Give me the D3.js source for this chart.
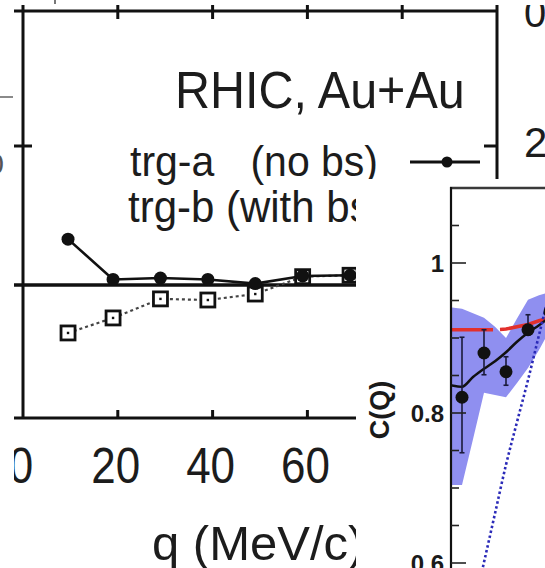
<!DOCTYPE html>
<html><head><meta charset="utf-8">
<script src="https://cdn.jsdelivr.net/npm/d3@7"></script>
<style>
html,body{margin:0;padding:0;background:#fff;overflow:hidden}
svg{display:block}
text{font-family:"Liberation Sans",Arial,sans-serif}
</style></head><body>
<svg id="chart" width="545" height="568"></svg>
<script>
// ---- main panel: ratio vs q (MeV/c) ----
const qValues = [9.5, 19, 29, 39, 49, 59, 69];
const trgA = [1.33, 1.04, 1.05, 1.04, 1.01, 1.065, 1.07];
const trgB = [0.655, 0.763, 0.90, 0.892, 0.935, 1.06, 1.07];
const qTicksBottom = [0, 20, 40, 60, 80];
const qTicksTop = [20, 40, 60, 80];
const ratioTicks = [2];
const panelTitle = "RHIC, Au+Au";
const legendA = ["trg-a", "(no bs)"];
const legendB = "trg-b (with bs)";
const xTitle = "q (MeV/c)";

// ---- inset: C(Q) vs Q ----
const insetQ = [0.005, 0.015, 0.025, 0.035, 0.045];
const insetC = [0.821, 0.880, 0.855, 0.911, 0.935];
const insetErrLo = [0.747, 0.851, 0.837, 0.904, 0.913];
const insetErrHi = [0.901, 0.911, 0.875, 0.931, 0.957];
const bandQ = [0, 0.005, 0.010, 0.015, 0.020, 0.025, 0.030, 0.035, 0.040, 0.045];
const bandHi = [0.941, 0.939, 0.933, 0.927, 0.915, 0.900, 0.926, 0.951, 0.957, 0.961];
const bandLo = [0.704, 0.704, 0.765, 0.827, 0.824, 0.821, 0.840, 0.860, 0.884, 0.911];
const fitC = [0.837, 0.835, 0.848, 0.859, 0.869, 0.881, 0.895, 0.907, 0.917, 0.928];
const flatQ = [0, 0.020, 0.025, 0.030, 0.035, 0.040, 0.045];
const flatC = [0.911, 0.911, 0.912, 0.915, 0.918, 0.923, 0.927];
const steepQ = [0.014, 0.020, 0.025, 0.030, 0.035, 0.040, 0.045];
const steepC = [0.588, 0.666, 0.731, 0.788, 0.844, 0.904, 0.964];
const insetMajor = [0.6, 0.8, 1.0];
const insetMinor = [0.65, 0.7, 0.75, 0.85, 0.9, 0.95, 1.05];
const insetLabels = ["0.6", "0.8", "1"];
const insetYTitle = "C(Q)";

const svg = d3.select("#chart");
const defs = svg.append("defs");

// main frame box
const L = 23, R = 497, T = 11, B = 418;
const x = d3.scaleLinear().domain([0, 100]).range([L, R]);
const y = d3.scaleLinear().domain([1, 2]).range([285, 146]);

defs.append("clipPath").attr("id", "mainClip")
  .append("rect").attr("x", 14).attr("y", 5).attr("width", 540).attr("height", 570);
defs.append("clipPath").attr("id", "sideClip")
  .append("rect").attr("x", 500).attr("y", 5).attr("width", 60).attr("height", 570);

const main = svg.append("g").attr("clip-path", "url(#mainClip)");
const ink = "#111";
const textInk = "#1c1c1c";

// frame
main.append("line").attr("x1", 14).attr("x2", R).attr("y1", T).attr("y2", T)
  .attr("stroke", ink).attr("stroke-width", 3);
main.append("line").attr("x1", 14).attr("x2", R).attr("y1", B).attr("y2", B)
  .attr("stroke", ink).attr("stroke-width", 3);
main.append("line").attr("x1", L).attr("x2", L).attr("y1", 5).attr("y2", B)
  .attr("stroke", ink).attr("stroke-width", 3);
main.append("line").attr("x1", R).attr("x2", R).attr("y1", 5).attr("y2", B)
  .attr("stroke", ink).attr("stroke-width", 3);

// top ticks (crossing the frame)
main.selectAll(".tt").data(qTicksTop).join("line")
  .attr("x1", d => x(d)).attr("x2", d => x(d)).attr("y1", 5).attr("y2", 19)
  .attr("stroke", ink).attr("stroke-width", 3);
// bottom ticks (inside)
main.selectAll(".bt").data(qTicksBottom.filter(d => d > 0)).join("line")
  .attr("x1", d => x(d)).attr("x2", d => x(d)).attr("y1", B - 8).attr("y2", B)
  .attr("stroke", ink).attr("stroke-width", 3);
// left / right ticks
main.selectAll(".lt").data(ratioTicks).join("line")
  .attr("x1", 14).attr("x2", 32).attr("y1", d => y(d)).attr("y2", d => y(d))
  .attr("stroke", ink).attr("stroke-width", 3);
main.selectAll(".rt").data(ratioTicks).join("line")
  .attr("x1", R - 13).attr("x2", R).attr("y1", d => y(d)).attr("y2", d => y(d))
  .attr("stroke", ink).attr("stroke-width", 3);

// unity reference line
main.append("line").attr("x1", 14).attr("x2", R).attr("y1", y(1)).attr("y2", y(1))
  .attr("stroke", ink).attr("stroke-width", 3.5);

// bottom tick labels (slightly tall glyphs)
main.selectAll(".bl").data(qTicksBottom).join("text")
  .attr("transform", d => `translate(${x(d) - 2},483) scale(1,1.12)`)
  .attr("text-anchor", "middle")
  .attr("font-size", 44).attr("fill", textInk).text(d => d);

// trg-b: dotted line with open squares
const lineMain = d3.line().x(d => x(d[0])).y(d => y(d[1]));
const ptsB = qValues.map((q, i) => [q, trgB[i]]);
const ptsA = qValues.map((q, i) => [q, trgA[i]]);
main.append("path").attr("d", lineMain(ptsB)).attr("fill", "none")
  .attr("stroke", "#444").attr("stroke-width", 2.2).attr("stroke-dasharray", "3 3");
main.selectAll(".sq").data(ptsB).join("rect")
  .attr("x", d => x(d[0]) - 7).attr("y", d => y(d[1]) - 7)
  .attr("width", 14).attr("height", 14)
  .attr("fill", "#fff").attr("stroke", ink).attr("stroke-width", 2.8);
main.selectAll(".sqd").data(ptsB).join("rect")
  .attr("x", d => x(d[0]) - 1.2).attr("y", d => y(d[1]) - 1.2)
  .attr("width", 2.4).attr("height", 2.4).attr("fill", ink);

// trg-a: solid line with filled circles
main.append("path").attr("d", lineMain(ptsA)).attr("fill", "none")
  .attr("stroke", ink).attr("stroke-width", 2.6);
main.selectAll(".ci").data(ptsA).join("circle")
  .attr("cx", d => x(d[0])).attr("cy", d => y(d[1])).attr("r", 6.5).attr("fill", ink);

// title and legend
main.append("text").attr("transform", "translate(175,108) scale(1,1.05)")
  .attr("font-size", 48.5).attr("fill", textInk).text(panelTitle);
main.append("text").attr("transform", "translate(130,176) scale(1,1.05)")
  .attr("font-size", 41).attr("fill", textInk).text(legendA[0]);
main.append("text").attr("transform", "translate(378,176) scale(1,1.05)")
  .attr("text-anchor", "end")
  .attr("font-size", 41).attr("fill", textInk).text(legendA[1]);
main.append("line").attr("x1", 410).attr("x2", 480).attr("y1", 162).attr("y2", 162)
  .attr("stroke", ink).attr("stroke-width", 3);
main.append("circle").attr("cx", 447).attr("cy", 162).attr("r", 5.5).attr("fill", ink);
main.append("text").attr("transform", "translate(128,222) scale(1,1.05)")
  .attr("font-size", 42).attr("fill", textInk).text(legendB);

// x-axis title
main.append("text").attr("x", 152).attr("y", 560).attr("font-size", 49)
  .attr("fill", textInk).text(xTitle);

// neighbouring panel edges
svg.append("line").attr("x1", 0).attr("x2", 13).attr("y1", 97).attr("y2", 97)
  .attr("stroke", "#8a8a8a").attr("stroke-width", 2);
svg.append("text").attr("x", 4).attr("y", 174).attr("text-anchor", "end")
  .attr("font-size", 30).attr("fill", "#555").text("0");
svg.append("line").attr("x1", 55).attr("x2", 55).attr("y1", 0).attr("y2", 4)
  .attr("stroke", "#777").attr("stroke-width", 2);
const side = svg.append("g").attr("clip-path", "url(#sideClip)");
side.append("text").attr("x", 524).attr("y", 27).attr("font-size", 40)
  .attr("fill", textInk).text("0");
side.append("text").attr("x", 524).attr("y", 157).attr("font-size", 42)
  .attr("fill", textInk).text("2");

// ---- inset panel ----
svg.append("rect").attr("x", 356).attr("y", 179).attr("width", 189).attr("height", 389)
  .attr("fill", "#fff");

const xi = d3.scaleLinear().domain([0, 0.045]).range([451, 550]);
const yi = d3.scaleLinear().domain([0.6, 1.0]).range([563, 263]);

defs.append("clipPath").attr("id", "insetClip")
  .append("rect").attr("x", 452).attr("y", 189).attr("width", 100).attr("height", 380);
const inset = svg.append("g").attr("clip-path", "url(#insetClip)");

const band = bandQ.map((q, i) => ({ q, lo: bandLo[i], hi: bandHi[i] }));
inset.append("path")
  .attr("d", d3.area().x(d => xi(d.q)).y0(d => yi(d.lo)).y1(d => yi(d.hi))(band))
  .attr("fill", "#8f8ff0");

inset.append("path")
  .attr("d", d3.line().x(d => xi(d[0])).y(d => yi(d[1]))(flatQ.map((q, i) => [q, flatC[i]])))
  .attr("fill", "none").attr("stroke", "#e2302c").attr("stroke-width", 3.5)
  .attr("stroke-dasharray", "42 7 300");

inset.append("path")
  .attr("d", d3.line().x(d => xi(d[0])).y(d => yi(d[1])).curve(d3.curveMonotoneX)(bandQ.map((q, i) => [q, fitC[i]])))
  .attr("fill", "none").attr("stroke", ink).attr("stroke-width", 2.5);

inset.append("path")
  .attr("d", d3.line().x(d => xi(d[0])).y(d => yi(d[1])).curve(d3.curveMonotoneX)(steepQ.map((q, i) => [q, steepC[i]])))
  .attr("fill", "none").attr("stroke", "#2a2ab8").attr("stroke-width", 2.6)
  .attr("stroke-dasharray", "2.5 2.5");

const pts = insetQ.map((q, i) => ({ q, c: insetC[i], lo: insetErrLo[i], hi: insetErrHi[i] }));
inset.selectAll(".eb").data(pts).join("line")
  .attr("x1", d => xi(d.q)).attr("x2", d => xi(d.q))
  .attr("y1", d => yi(d.lo)).attr("y2", d => yi(d.hi))
  .attr("stroke", "#1a1a3a").attr("stroke-width", 1.6);
["lo", "hi"].forEach(k => {
  inset.selectAll(".cap" + k).data(pts).join("line")
    .attr("x1", d => xi(d.q) - 2.5).attr("x2", d => xi(d.q) + 2.5)
    .attr("y1", d => yi(d[k])).attr("y2", d => yi(d[k]))
    .attr("stroke", "#1a1a3a").attr("stroke-width", 1.6);
});
inset.selectAll(".pt").data(pts).join("circle")
  .attr("cx", d => xi(d.q)).attr("cy", d => yi(d.c)).attr("r", 6.5).attr("fill", ink);

// inset frame and ticks
svg.append("line").attr("x1", 450).attr("x2", 545).attr("y1", 188).attr("y2", 188)
  .attr("stroke", "#3a3a3a").attr("stroke-width", 2.5);
svg.append("line").attr("x1", 451).attr("x2", 451).attr("y1", 187).attr("y2", 568)
  .attr("stroke", ink).attr("stroke-width", 2.2);
svg.selectAll(".imaj").data(insetMajor).join("line")
  .attr("x1", 451).attr("x2", 466).attr("y1", d => yi(d)).attr("y2", d => yi(d))
  .attr("stroke", "#222").attr("stroke-width", 1.6);
svg.selectAll(".imin").data(insetMinor).join("line")
  .attr("x1", 451).attr("x2", 459).attr("y1", d => yi(d)).attr("y2", d => yi(d))
  .attr("stroke", "#222").attr("stroke-width", 1.6);
svg.selectAll(".ilab").data(insetMajor).join("text")
  .attr("x", 444).attr("y", d => yi(d)).attr("dy", "0.36em")
  .attr("text-anchor", "end").attr("font-size", 24).attr("font-weight", "bold")
  .attr("fill", "#1a1a1a").text((d, i) => insetLabels[i]);
svg.append("text").attr("transform", "translate(379,410) rotate(-90)")
  .attr("text-anchor", "middle").attr("dy", "0.36em")
  .attr("font-size", 27).attr("font-weight", "bold").attr("fill", "#1a1a1a")
  .text(insetYTitle);
</script>
</body></html>
